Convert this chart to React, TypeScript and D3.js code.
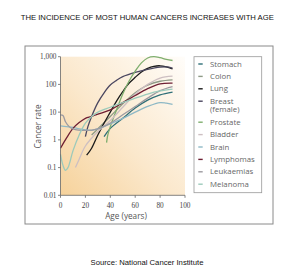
import React from "react";
import * as d3 from "d3";

const title = "THE INCIDENCE OF MOST HUMAN CANCERS INCREASES WITH AGE";
const source = "Source: National Cancer Institute";
const xTicks = [0, 20, 40, 60, 80, 100];
const yTicks = [0.01, 0.1, 1, 10, 100, 1000];
const yTickLabels = ["0.01", "0.1", "1", "10", "100", "1,000"];

const seriesNames = ["Stomach", "Colon", "Lung", "Breast (female)", "Prostate", "Bladder", "Brain", "Lymphomas", "Leukaemias", "Melanoma"];
const seriesColors = ["#2f6f78", "#8e9a86", "#1a1a1a", "#4b4760", "#7fae6e", "#cdbfc2", "#8fb9c6", "#6e1f33", "#9c9aa0", "#9ccabb"];

const stomach: [number, number][] = [[35, 1.3], [40, 2.6], [50, 6], [60, 14], [70, 27], [80, 42], [90, 53]];
const colon: [number, number][] = [[25, 1.5], [30, 2.5], [40, 7], [50, 20], [60, 50], [70, 95], [80, 130], [90, 146]];
const lung: [number, number][] = [[21, 0.28], [25, 0.5], [30, 1.5], [35, 4], [40, 10], [45, 25], [50, 55], [55, 110], [60, 180], [65, 280], [70, 380], [75, 450], [80, 470], [85, 430], [90, 360]];
const breast: [number, number][] = [[20, 1.3], [22, 3], [25, 7], [30, 22], [35, 50], [40, 95], [45, 140], [50, 190], [60, 270], [70, 350], [80, 420], [85, 430], [90, 390]];
const prostate: [number, number][] = [[37, 0.8], [38, 1.5], [40, 3], [45, 12], [50, 45], [55, 130], [60, 300], [65, 600], [70, 900], [75, 1000], [80, 920], [85, 800], [90, 730]];
const bladder: [number, number][] = [[12, 0.1], [15, 0.2], [20, 0.6], [30, 2], [40, 5], [50, 15], [60, 45], [70, 100], [80, 170], [90, 200]];
const brain: [number, number][] = [[0, 3.2], [5, 3], [10, 2.8], [15, 2.5], [20, 2.3], [25, 2.2], [30, 2.5], [35, 3], [40, 3.8], [50, 6], [60, 10], [70, 16], [80, 22], [85, 21], [90, 19]];
const lymphomas: [number, number][] = [[0, 0.5], [5, 1.2], [10, 2.6], [15, 4.2], [20, 6], [25, 7], [30, 8.5], [40, 12], [50, 22], [60, 40], [70, 70], [80, 105], [90, 112]];
const leukaemias: [number, number][] = [[0, 8], [2, 7.5], [4, 4.5], [7, 3], [10, 2.5], [20, 2.2], [30, 2.5], [40, 4], [50, 8], [60, 16], [70, 32], [80, 60], [90, 84]];
const melanoma: [number, number][] = [[0, 0.3], [2, 0.12], [4, 0.08], [6, 0.1], [10, 0.4], [15, 1.5], [20, 4], [25, 7], [30, 10], [40, 15], [50, 22], [60, 32], [70, 45], [80, 58], [90, 68]];

const seriesData = [stomach, colon, lung, breast, prostate, bladder, brain, lymphomas, leukaemias, melanoma];

export default function App() {
  const W = 306, H = 277;
  const x = d3.scaleLinear().domain([0, 100]).range([60.5, 185]);
  const y = d3.scaleLog().domain([0.01, 1000]).range([195.3, 56.7]);
  const line = d3.line<[number, number]>()
    .x(d => x(d[0]))
    .y(d => y(d[1]))
    .curve(d3.curveCatmullRom.alpha(0.5));
  const sans = "'Liberation Sans', Arial, sans-serif";
  const hum = "'Open Sans', sans-serif";
  const serif = "'Liberation Serif', 'DejaVu Serif', serif";

  const legRows: { name: string[]; color: string; y: number }[] = [];
  let ly = 64;
  seriesNames.forEach((n, i) => {
    const parts = n === "Breast (female)" ? ["Breast", "(female)"] : [n];
    legRows.push({ name: parts, color: seriesColors[i], y: ly });
    ly += 12.4 + (parts.length - 1) * 8.6;
  });

  return (
    <svg width={W} height={H} style={{ position: "absolute", left: 0, top: 0, background: "#fff" }}>
      <defs>
        <linearGradient id="bg" x1="0" y1="1" x2="1" y2="0">
          <stop offset="0%" stopColor="#f6d29b" />
          <stop offset="45%" stopColor="#fbe8cc" />
          <stop offset="100%" stopColor="#fffdfa" />
        </linearGradient>
      </defs>
      <rect width={W} height={H} fill="#fff" />
      <text x={20.7} y={20} fontFamily={sans} fontSize={7.7} fill="#111">{title}</text>
      <rect x={25} y={46} width={248} height={178} fill="#fff" stroke="#8a8a8a" strokeWidth={1} />
      <rect x={x(0)} y={y(1000)} width={x(100) - x(0)} height={y(0.01) - y(1000)} fill="url(#bg)" />
      {seriesData.map((d, i) => (
        <path key={i} d={line(d) || ""} fill="none" stroke={seriesColors[i]} strokeWidth={1.3} />
      ))}
      <line x1={x(0)} x2={x(0)} y1={y(1000)} y2={y(0.01)} stroke="#666" strokeWidth={0.8} />
      <line x1={x(0)} x2={x(100)} y1={y(0.01)} y2={y(0.01)} stroke="#666" strokeWidth={0.8} />
      {yTicks.map((t, i) => (
        <g key={t}>
          <line x1={x(0) - 2.5} x2={x(0)} y1={y(t)} y2={y(t)} stroke="#666" strokeWidth={0.8} />
          <text x={x(0) - 4} y={y(t) + 2.4} textAnchor="end" fontFamily={serif} fontSize={7.3} fill="#444">{yTickLabels[i]}</text>
        </g>
      ))}
      {xTicks.map(t => (
        <g key={t}>
          <line x1={x(t)} x2={x(t)} y1={y(0.01)} y2={y(0.01) + 2.5} stroke="#666" strokeWidth={0.8} />
          <text x={x(t)} y={208.2} textAnchor="middle" fontFamily={serif} fontSize={7.3} fill="#444">{t}</text>
        </g>
      ))}
      <text x={126} y={218.8} textAnchor="middle" fontFamily={hum} fontSize={8.2} fill="#555">Age (years)</text>
      <text transform={`translate(40.7,126.5) rotate(-90)`} textAnchor="middle" fontFamily={hum} fontSize={8.2} fill="#555">Cancer rate</text>
      <rect x={194} y={56.7} width={67.7} height={136} fill="#fff" stroke="#999" strokeWidth={0.8} />
      {legRows.map((r, i) => (
        <g key={i}>
          <line x1={198.3} x2={202.7} y1={r.y} y2={r.y} stroke={r.color} strokeWidth={1.4} />
          {r.name.map((p, j) => (
            <text key={j} x={210} y={r.y + 2.6 + j * 8.6} fontFamily={hum} fontSize={7.8} fill="#666">{p}</text>
          ))}
        </g>
      ))}
      <text x={147} y={265} textAnchor="middle" fontFamily={sans} fontSize={7.7} fill="#111">{source}</text>
    </svg>
  );
}
